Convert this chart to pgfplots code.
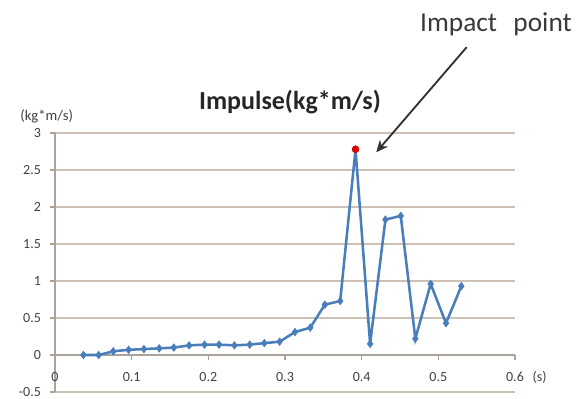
\documentclass[border=0pt]{standalone}
\usepackage{pgfplots}
\pgfplotsset{compat=1.18}
\usetikzlibrary{arrows.meta}
\usepackage{fontspec}
\setmainfont{Carlito}
\definecolor{gridc}{RGB}{205,192,180}
\definecolor{axc}{RGB}{170,162,155}
\definecolor{lineblue}{RGB}{74,126,187}
\definecolor{txt}{RGB}{65,65,65}
\begin{document}
\begin{tikzpicture}
\path[use as bounding box] (0,0) rectangle (440.25pt,299.25pt);
\begin{axis}[
  at={(41.25pt,5.25pt)}, anchor=south west,
  scale only axis, width=345pt, height=194.25pt,
  xmin=0, xmax=0.6, ymin=-0.5, ymax=3,
  axis y line=left, axis x line=middle,
  axis line style={draw=axc, line width=0.8pt, -},
  hide obscured x ticks=false,
  xtick={0,0.1,0.2,0.3,0.4,0.5,0.6},
  ytick={-0.5,0,0.5,1,1.5,2,2.5,3},
  xticklabels={0,0.1,0.2,0.3,0.4,0.5,0.6},
  yticklabels={-0.5,0,0.5,1,1.5,2,2.5,3},
  tick align=outside, major tick length=4pt,
  tick style={draw=axc, line width=0.8pt},
  ymajorgrids, grid style={draw=gridc, line width=1pt},
  ticklabel style={font=\fontsize{10.5}{12}\selectfont, text=txt},
  yticklabel style={xshift=-3pt},
  xticklabel style={yshift=-5.5pt},
  /pgf/number format/assume math mode=true,
  clip=false,
]
\addplot[lineblue, line width=1.9pt, mark=diamond*, mark size=2.8pt,
  mark options={fill=lineblue, draw=lineblue, line width=0.5pt}] coordinates {
(0.037,0.00) (0.057,0.00) (0.076,0.05) (0.096,0.07) (0.116,0.08)
(0.136,0.09) (0.155,0.10) (0.175,0.13) (0.195,0.14) (0.214,0.14)
(0.234,0.13) (0.254,0.14) (0.273,0.16) (0.293,0.18) (0.313,0.31)
(0.333,0.37) (0.352,0.68) (0.372,0.73) (0.392,2.78) (0.411,0.15)
(0.431,1.83) (0.451,1.88) (0.470,0.22) (0.490,0.96) (0.510,0.43)
(0.530,0.93)
};
\addplot[only marks, mark=*, mark size=2.6pt, red!85!black, mark options={fill=red!85!black}] coordinates {(0.392,2.78)};
\draw[-{Stealth[length=9pt,width=8pt]}, line width=1.4pt, black!80] (axis cs:0.537,4.16) -- (axis cs:0.419,2.74);
\end{axis}
\node[font=\fontsize{10.5}{12}\selectfont, text=txt, anchor=west] at (396pt,16pt) {(s)};
\node[font=\fontsize{11}{12}\selectfont, text=txt] at (35pt,212pt) {(kg*m/s)};
\node[font=\bfseries\fontsize{19.5}{22}\selectfont, text=black!85] at (217.5pt,223pt) {Impulse(kg*m/s)};
\node[font=\fontsize{20.5}{23}\selectfont, text=black!78] at (372pt,281pt) {Impact\hspace{0.6em}point};
\end{tikzpicture}
\end{document}
